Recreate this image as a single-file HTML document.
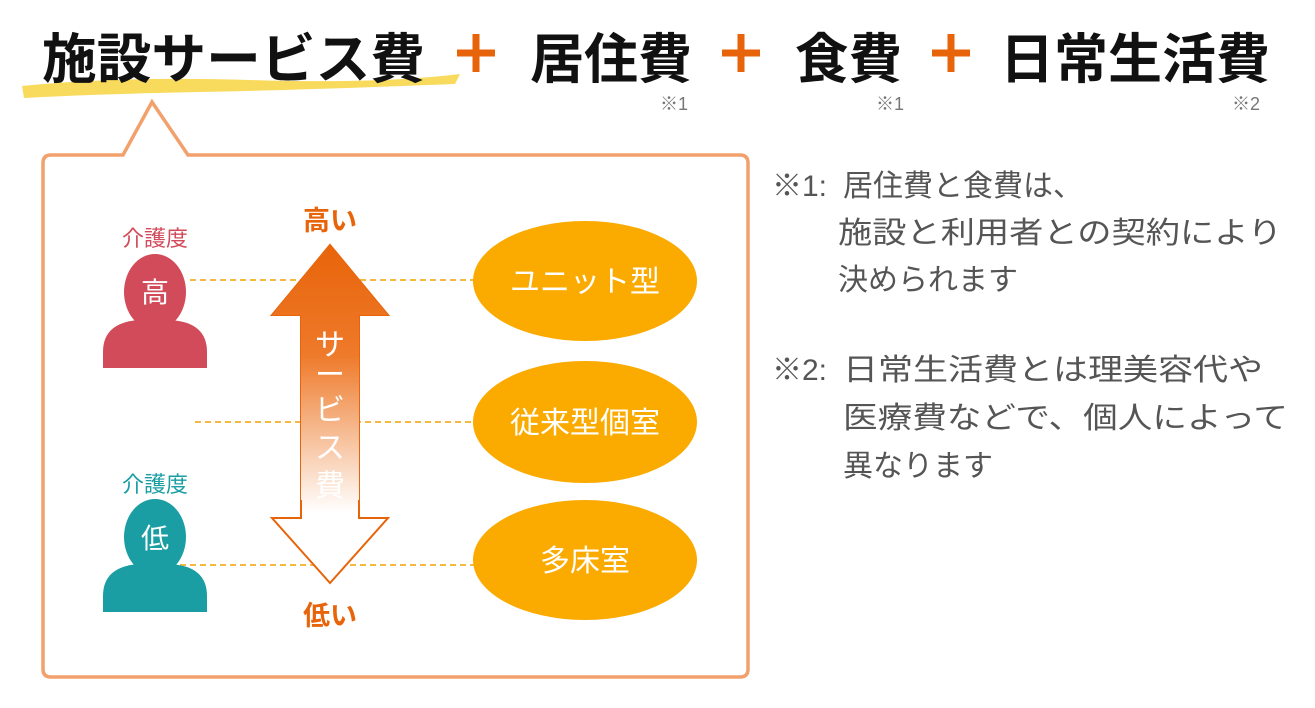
<!DOCTYPE html>
<html><head><meta charset="utf-8"><style>
html,body{margin:0;padding:0;background:#fff;}
svg{display:block;font-family:"Liberation Sans","Noto Sans CJK JP",sans-serif;}
</style></head><body>
<svg width="1315" height="708" viewBox="0 0 1315 708">
<defs>
<linearGradient id="g" x1="0" y1="0" x2="0" y2="1" gradientUnits="userSpaceOnUse">
<stop offset="0" stop-color="#e8640a" x1="0"/>
</linearGradient>
<linearGradient id="ag" x1="0" y1="245" x2="0" y2="560" gradientUnits="userSpaceOnUse">
<stop offset="0" stop-color="#e8640a"/>
<stop offset="0.35" stop-color="#ee7a2a"/>
<stop offset="0.85" stop-color="#fff"/>
<stop offset="1" stop-color="#fff"/>
</linearGradient>
</defs>
<!-- yellow scribble -->
<path d="M22 86 Q120 76 250 80 T460 74 L455 84 Q300 90 200 92 T24 98 Z" fill="#f7d64a" opacity="0.9"/>
<!-- title -->
<g font-weight="bold" font-size="54" fill="#111">
<text x="42" y="78" textLength="383" lengthAdjust="spacingAndGlyphs">施設サービス費</text>
<text x="530" y="78" textLength="162" lengthAdjust="spacingAndGlyphs">居住費</text>
<text x="795" y="78" textLength="107" lengthAdjust="spacingAndGlyphs">食費</text>
<text x="1000" y="78" textLength="270" lengthAdjust="spacingAndGlyphs">日常生活費</text>
</g>
<g stroke="#e8640a" stroke-width="7">
<path d="M457 53 H495 M476 34 V72"/>
<path d="M722 53 H760 M741 34 V72"/>
<path d="M932 53 H970 M951 34 V72"/>
</g>
<g font-size="18" fill="#777">
<text x="660" y="110">※1</text>
<text x="876" y="110">※1</text>
<text x="1232" y="110">※2</text>
</g>
<!-- box -->
<path d="M51 155 H123 L152 102 L188 155 H740 Q748 155 748 163 V669 Q748 677 740 677 H51 Q43 677 43 669 V163 Q43 155 51 155 Z" fill="#fff" stroke="#f2a06c" stroke-width="3.5"/>
<!-- dashed lines -->
<g stroke="#f5b840" stroke-width="2" stroke-dasharray="6,4">
<line x1="190" y1="280" x2="475" y2="280"/>
<line x1="195" y1="422" x2="475" y2="422"/>
<line x1="180" y1="565" x2="475" y2="565"/>
</g>
<!-- persons -->
<g fill="#d24b5a">
<ellipse cx="155" cy="292" rx="31" ry="38"/>
<path d="M103 368 V352 Q103 322 140 320 H170 Q207 322 207 352 V368 Z"/>
</g>
<text x="155" y="246" font-size="22" fill="#d24b5a" text-anchor="middle">介護度</text>
<text x="155" y="302" font-size="28" fill="#fff" text-anchor="middle">高</text>
<g fill="#1a9ea3">
<ellipse cx="155" cy="537" rx="31" ry="38"/>
<path d="M103 612 V596 Q103 566 140 564 H170 Q207 566 207 596 V612 Z"/>
</g>
<text x="155" y="492" font-size="22" fill="#1a9ea3" text-anchor="middle">介護度</text>
<text x="155" y="548" font-size="28" fill="#fff" text-anchor="middle">低</text>
<!-- arrow -->
<path d="M330 245 L388 315 H359 V518 H388 L330 583 L272 518 H301 V315 H272 Z" fill="url(#ag)" stroke="#e8640a" stroke-width="2"/>
<path d="M330 245 L388 315 H359 V500 H301 V315 H272 Z" fill="url(#ag)"/>
<g font-size="30" fill="#fff" text-anchor="middle">
<text x="330" y="355">サ</text>
<text x="330" y="385">ー</text>
<text x="330" y="420">ビ</text>
<text x="330" y="458">ス</text>
<text x="330" y="496">費</text>
</g>
<text x="330" y="230" font-size="27" font-weight="bold" fill="#e8640a" text-anchor="middle">高い</text>
<text x="330" y="625" font-size="27" font-weight="bold" fill="#e8640a" text-anchor="middle">低い</text>
<!-- ellipses -->
<g fill="#fbaa00">
<ellipse cx="585" cy="281" rx="112" ry="60"/>
<ellipse cx="585" cy="422" rx="112" ry="61"/>
<ellipse cx="585" cy="560" rx="112" ry="60"/>
</g>
<g font-size="30" fill="#fff" text-anchor="middle">
<text x="585" y="292">ユニット型</text>
<text x="585" y="433">従来型個室</text>
<text x="585" y="571">多床室</text>
</g>
<!-- notes -->
<g font-size="30" fill="#555">
<text x="772" y="196">※1:</text>
<text x="843" y="196">居住費と食費は、</text>
<text x="838" y="243" textLength="444" lengthAdjust="spacingAndGlyphs">施設と利用者との契約により</text>
<text x="838" y="290">決められます</text>
<text x="772" y="380">※2:</text>
<text x="843" y="380" textLength="420" lengthAdjust="spacingAndGlyphs">日常生活費とは理美容代や</text>
<text x="843" y="428" textLength="445" lengthAdjust="spacingAndGlyphs">医療費などで、個人によって</text>
<text x="843" y="476">異なります</text>
</g>
</svg>
</body></html>
